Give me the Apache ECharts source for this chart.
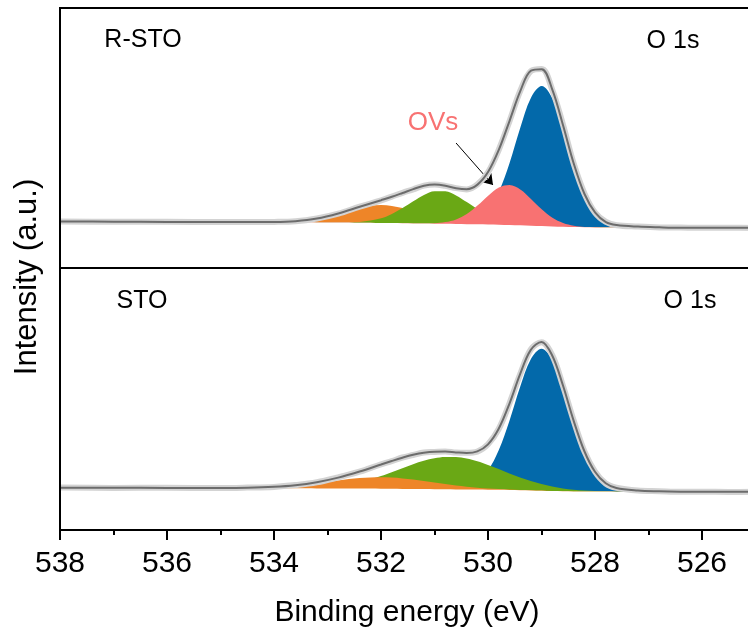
<!DOCTYPE html>
<html>
<head>
<meta charset="utf-8">
<title>O 1s XPS</title>
<script src="https://cdn.jsdelivr.net/npm/echarts@6/dist/echarts.min.js"></script>
<style>
  html, body { margin: 0; padding: 0; background: #fff; overflow: hidden; }
  /* the frame runs on past the right edge of the window, as in the original figure */
  #chart { width: 812px; height: 637px; }
</style>
</head>
<body>
<div id="chart"></div>
<script>
// Binding energies (eV) shared by every curve
const energy = [538, 537, 536, 535, 534.5, 534, 533.6, 533.2, 532.8, 532.4,
  532.0, 531.8, 531.6, 531.4, 531.2, 531.0, 530.8, 530.6, 530.4, 530.2,
  530.0, 529.8, 529.6, 529.4, 529.2, 529.0, 528.8, 528.6, 528.4, 528.2,
  528.0, 527.8, 527.6, 527.2, 526.8, 526.4, 526, 525.5, 525];

// R-STO: background and fitted components (counts, a.u.)
const rstoBackground = [46.5, 46.3, 46.1, 46.0, 45.9, 45.8, 45.7, 45.6, 45.4, 45.2,
  45.0, 44.9, 44.8, 44.6, 44.5, 44.3, 44.2, 44.0, 43.8, 43.7,
  43.5, 43.3, 43.0, 42.7, 42.3, 41.9, 41.5, 41.2, 40.9, 40.7,
  40.6, 40.5, 40.5, 40.4, 40.4, 40.3, 40.3, 40.2, 40.2];
const rstoLattice = [0, 0, 0, 0, 0, 0, 0, 0, 0, 0,
  0, 0, 0, 0, 0, 0, 0.1, 0.4, 1.7, 5.4,
  14.6, 32.9, 62.0, 97.5, 127.9, 140, 127.9, 97.5, 62.0, 32.9,
  14.6, 5.4, 2.5, 1.0, 0.3, 0, 0, 0, 0];
const rstoVacancy = [0, 0, 0, 0, 0, 0, 0, 0, 0, 0,
  0, 0, 0, 0, 0.1, 0.5, 1.7, 4.6, 10.1, 18.7,
  28.8, 37.2, 40.0, 35.8, 26.8, 16.8, 8.7, 3.8, 1.4, 0.4,
  0.1, 0, 0, 0, 0, 0, 0, 0, 0];
const rstoHydroxyl = [0, 0, 0, 0, 0, 0, 0, 0, 0.1, 0.9,
  4.8, 9.1, 15.1, 22.1, 28.6, 32.5, 32.5, 28.6, 22.1, 15.1,
  9.1, 4.8, 2.2, 0.9, 0.3, 0.1, 0, 0, 0, 0,
  0, 0, 0, 0, 0, 0, 0, 0, 0];
const rstoAdsorbed = [0, 0, 0, 0, 0, 0.2, 1.1, 3.8, 9.0, 15.1,
  18, 17.2, 15.1, 12.2, 9.0, 6.1, 3.8, 2.2, 1.1, 0.5,
  0.2, 0.1, 0, 0, 0, 0, 0, 0, 0, 0,
  0, 0, 0, 0, 0, 0, 0, 0, 0];
const rstoCounts = [46.6, 46.2, 46.3, 45.9, 46.0, 46.1, 46.7, 49.5, 54.3, 61.4,
  67.6, 71.4, 75.2, 78.7, 82.4, 83.5, 82.1, 79.9, 78.6, 83.6,
  96.0, 118.5, 147.0, 177.2, 197.0, 199.1, 177.8, 142.8, 104.0, 74.3,
  55.1, 46.1, 42.8, 41.5, 40.6, 40.4, 40.2, 40.3, 40.1];

// STO: background and fitted components
const stoBackground = [42.3, 42.2, 42.1, 42.0, 41.9, 41.8, 41.7, 41.6, 41.5, 41.4,
  41.3, 41.2, 41.1, 41.0, 40.9, 40.8, 40.7, 40.6, 40.5, 40.4,
  40.3, 40.2, 40.0, 39.8, 39.6, 39.3, 39.0, 38.8, 38.6, 38.5,
  38.4, 38.4, 38.3, 38.3, 38.3, 38.2, 38.2, 38.2, 38.2];
const stoLattice = [0, 0, 0, 0, 0, 0, 0, 0, 0, 0,
  0, 0, 0, 0, 0, 0, 0.2, 0.8, 2.8, 8.0,
  19.2, 39.5, 69.1, 103.1, 131.1, 142, 131.1, 103.1, 69.1, 39.5,
  19.2, 8.0, 3.5, 1.2, 0.4, 0.1, 0, 0, 0];
const stoHydroxyl = [0, 0, 0, 0, 0, 0.1, 0.3, 1.0, 2.8, 6.6,
  12.7, 16.6, 20.7, 24.8, 28.3, 30.9, 32.3, 32.3, 30.9, 28.3,
  24.8, 20.7, 16.6, 12.7, 9.3, 6.6, 4.4, 2.8, 1.7, 1.0,
  0.6, 0.3, 0.15, 0, 0, 0, 0, 0, 0];
const stoAdsorbed = [0, 0, 0, 0.1, 0.4, 1.3, 2.8, 5.2, 8.1, 10.5,
  11.5, 11.2, 10.5, 9.4, 8.1, 6.6, 5.2, 3.9, 2.8, 1.9,
  1.3, 0.8, 0.5, 0.3, 0.15, 0.1, 0, 0, 0, 0,
  0, 0, 0, 0, 0, 0, 0, 0, 0];
const stoCounts = [42.4, 42.1, 42.2, 42.0, 42.4, 43.1, 44.9, 47.7, 52.6, 58.3,
  65.7, 68.8, 72.5, 75.0, 77.5, 78.1, 78.6, 77.4, 77.2, 78.4,
  85.8, 101.0, 126.5, 155.6, 180.5, 187.8, 174.8, 144.4, 109.7, 78.8,
  58.4, 46.5, 42.2, 39.4, 38.8, 38.2, 38.3, 38.1, 38.2];

// Axis tick values (eV)
const energyTicks = [538, 536, 534, 532, 530, 528, 526];

const COLORS = {
  lattice: '#0369aa',
  vacancy: '#f87272',
  hydroxyl: '#6aa815',
  adsorbed: '#ee8528',
  fit: '#6c6c6c',
  counts: '#d3d3d3'
};
const FONT = "'Liberation Sans', Arial, Helvetica, sans-serif";
const SMOOTH = 0.35;

const pairs = ys => energy.map((e, i) => [e, ys[i]]);
const onBackground = (background, values) => energy.map((e, i) => [e, background[i] + values[i]]);

// A fitted peak sitting on the background; it is filled down to the axis and the
// part under the background is then covered by the background mask.
function peak(gridIndex, background, values, color, z) {
  return {
    type: 'line', xAxisIndex: gridIndex, yAxisIndex: gridIndex,
    data: onBackground(background, values), smooth: SMOOTH,
    showSymbol: false, lineStyle: { width: 0, opacity: 0 },
    areaStyle: { color: color, opacity: 1 }, z: z, silent: true
  };
}

function backgroundMask(gridIndex, background, z) {
  return {
    type: 'line', xAxisIndex: gridIndex, yAxisIndex: gridIndex,
    data: pairs(background), smooth: SMOOTH,
    showSymbol: false, lineStyle: { width: 0, opacity: 0 },
    areaStyle: { color: '#fff', opacity: 1 }, z: z, silent: true
  };
}

function envelope(background, comps) {
  return energy.map((e, i) => [e, comps.reduce((s, c) => s + c[i], background[i])]);
}

function countsSeries(gridIndex, values) {
  return {
    type: 'line', xAxisIndex: gridIndex, yAxisIndex: gridIndex,
    data: pairs(values), smooth: SMOOTH, showSymbol: false,
    lineStyle: { width: 6, color: COLORS.counts }, z: 10, silent: true
  };
}

function fitSeries(gridIndex, background, comps, extra) {
  return Object.assign({
    type: 'line', xAxisIndex: gridIndex, yAxisIndex: gridIndex,
    data: envelope(background, comps), smooth: SMOOTH,
    showSymbol: false, lineStyle: { width: 2, color: COLORS.fit }, z: 11, silent: true
  }, extra || {});
}

const xRange = { min: 524, max: 538, interval: 2 };

const option = {
  animation: false,
  grid: [
    { left: 60, top: 8, width: 749.3, height: 260, show: true, z: 30, borderColor: '#000', borderWidth: 2, backgroundColor: 'transparent' },
    { left: 60, top: 268, width: 749.3, height: 262, show: true, z: 30, borderColor: '#000', borderWidth: 2, backgroundColor: 'transparent' }
  ],
  xAxis: [
    Object.assign({ type: 'value', gridIndex: 0, inverse: true,
      axisLine: { show: false }, axisTick: { show: false }, axisLabel: { show: false },
      splitLine: { show: false } }, xRange),
    Object.assign({ type: 'value', gridIndex: 1, inverse: true, z: 30,
      axisLine: { show: true, onZero: false, lineStyle: { color: '#000', width: 2 } },
      axisTick: { show: true, inside: false, length: 10, lineStyle: { color: '#000', width: 2 } },
      minorTick: { show: true, splitNumber: 2, length: 5, lineStyle: { color: '#000', width: 2 } },
      axisLabel: { show: true, margin: 19, color: '#000', fontSize: 30, fontFamily: FONT,
        showMinLabel: true, showMaxLabel: true,
        formatter: v => energyTicks.indexOf(v) >= 0 ? String(v) : '' },
      splitLine: { show: false } }, xRange)
  ],
  yAxis: [
    { type: 'value', gridIndex: 0, min: 0, max: 260, show: false },
    { type: 'value', gridIndex: 1, min: 0, max: 262, show: false }
  ],
  series: [
    // R-STO panel
    peak(0, rstoBackground, rstoLattice, COLORS.lattice, 2),
    peak(0, rstoBackground, rstoAdsorbed, COLORS.adsorbed, 3),
    peak(0, rstoBackground, rstoHydroxyl, COLORS.hydroxyl, 4),
    peak(0, rstoBackground, rstoVacancy, COLORS.vacancy, 5),
    backgroundMask(0, rstoBackground, 6),
    countsSeries(0, rstoCounts),
    fitSeries(0, rstoBackground, [rstoLattice, rstoVacancy, rstoHydroxyl, rstoAdsorbed], {
      markLine: {
        silent: true, animation: false,
        symbol: ['none', 'arrow'], symbolSize: 10,
        label: { show: false },
        lineStyle: { color: '#000', width: 1, type: 'solid' },
        data: [[{ coord: [530.6, 125] }, { coord: [529.91, 83] }]]
      }
    }),
    // STO panel
    peak(1, stoBackground, stoLattice, COLORS.lattice, 2),
    peak(1, stoBackground, stoHydroxyl, COLORS.hydroxyl, 3),
    peak(1, stoBackground, stoAdsorbed, COLORS.adsorbed, 4),
    backgroundMask(1, stoBackground, 6),
    countsSeries(1, stoCounts),
    fitSeries(1, stoBackground, [stoLattice, stoHydroxyl, stoAdsorbed])
  ],
  graphic: [
    { type: 'text', x: 27, y: 277, rotation: Math.PI / 2,
      style: { text: 'Intensity (a.u.)', fill: '#000', font: '31px ' + FONT, align: 'center', verticalAlign: 'middle' } },
    { type: 'text', x: 407, y: 613,
      style: { text: 'Binding energy (eV)', fill: '#000', font: '30px ' + FONT, align: 'center', verticalAlign: 'middle' } },
    { type: 'text', x: 143, y: 40,
      style: { text: 'R-STO', fill: '#000', font: '25px ' + FONT, align: 'center', verticalAlign: 'middle' } },
    { type: 'text', x: 673, y: 41,
      style: { text: 'O 1s', fill: '#000', font: '25px ' + FONT, align: 'center', verticalAlign: 'middle' } },
    { type: 'text', x: 433, y: 123,
      style: { text: 'OVs', fill: COLORS.vacancy, font: '26px ' + FONT, align: 'center', verticalAlign: 'middle' } },
    { type: 'text', x: 142, y: 301,
      style: { text: 'STO', fill: '#000', font: '25px ' + FONT, align: 'center', verticalAlign: 'middle' } },
    { type: 'text', x: 690, y: 301,
      style: { text: 'O 1s', fill: '#000', font: '25px ' + FONT, align: 'center', verticalAlign: 'middle' } }
  ]
};

const chart = echarts.init(document.getElementById('chart'), null, { renderer: 'canvas' });
chart.setOption(option);
</script>
</body>
</html>
